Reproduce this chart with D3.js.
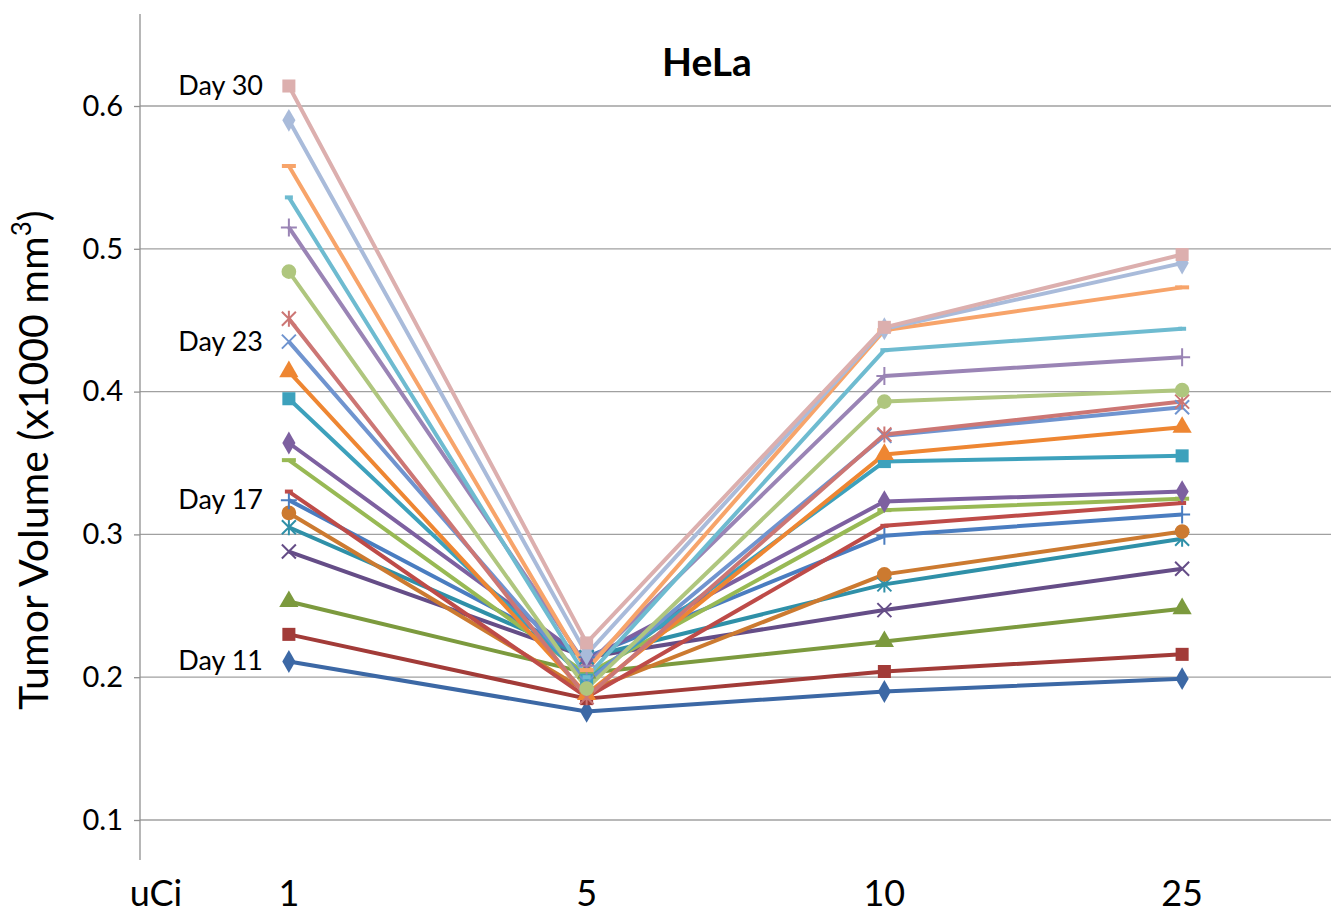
<!DOCTYPE html>
<html>
<head>
<meta charset="utf-8">
<script src="https://cdn.jsdelivr.net/npm/d3@7"></script>
<style>
  html, body { margin: 0; padding: 0; background: #fff; }
  svg { display: block; font-family: Lato, "Open Sans", sans-serif; }
</style>
</head>
<body>
<div id="chart"></div>
<script>
// doses on the x axis
const doses = ["1", "5", "10", "25"];
const yTicks = [0.1, 0.2, 0.3, 0.4, 0.5, 0.6];
// one series per day, Day 11 .. Day 30
const days = d3.range(11, 31);
const dayLabels = ["Day 11", "Day 17", "Day 23", "Day 30"];

// tumor volume (x1000 mm3) per series, at each dose
const volAt1  = [0.211, 0.230, 0.253, 0.288, 0.305, 0.315, 0.324, 0.330, 0.352, 0.364,
                 0.395, 0.414, 0.435, 0.451, 0.484, 0.515, 0.536, 0.558, 0.590, 0.614];
const volAt5  = [0.176, 0.185, 0.203, 0.214, 0.214, 0.190, 0.214, 0.186, 0.202, 0.212,
                 0.198, 0.188, 0.196, 0.186, 0.192, 0.208, 0.200, 0.205, 0.216, 0.224];
const volAt10 = [0.190, 0.204, 0.225, 0.247, 0.265, 0.272, 0.299, 0.306, 0.317, 0.323,
                 0.351, 0.356, 0.369, 0.370, 0.393, 0.411, 0.429, 0.443, 0.444, 0.445];
const volAt25 = [0.199, 0.216, 0.248, 0.276, 0.297, 0.302, 0.314, 0.322, 0.325, 0.330,
                 0.355, 0.375, 0.389, 0.393, 0.401, 0.424, 0.444, 0.473, 0.490, 0.496];

const colors = ["#3C68A5", "#A23B38", "#7C9A3E", "#654D87", "#2F90A8", "#CC7A30",
                "#4A7DC0", "#BE4B48", "#98B954", "#7D60A0", "#3DA1BC", "#EE8632",
                "#7094CF", "#CC7674", "#AFC67E", "#9A84B5", "#6EBBD0", "#F7A46A",
                "#A9BBDA", "#DCAFAE"];
const markerCycle = ["diamond", "square", "triangle", "x", "star", "circle", "plus", "dash", "longdash"];

const width = 1331, height = 916;
const plot = {left: 140, right: 1331, top: 14, bottom: 860};

const svg = d3.select("#chart").append("svg")
    .attr("width", width)
    .attr("height", height);

const x = d3.scaleBand().domain(doses).range([plot.left, plot.right]);
const xc = d => x(d) + x.bandwidth() / 2;
const y = d3.scaleLinear().domain([0.1, 0.6]).range([820, 106]);

// gridlines
svg.append("g")
    .selectAll("line")
    .data(yTicks)
    .join("line")
    .attr("x1", plot.left).attr("x2", plot.right)
    .attr("y1", d => y(d)).attr("y2", d => y(d))
    .attr("stroke", "#a0a0a0").attr("stroke-width", 1.3);

// y axis
const yAxis = svg.append("g")
    .attr("transform", `translate(${plot.left},0)`)
    .call(d3.axisLeft(y).tickValues(yTicks).tickFormat(d3.format(".1f")).tickSize(6).tickPadding(11));
yAxis.select(".domain").remove();
yAxis.append("line")
    .attr("x1", 0).attr("x2", 0)
    .attr("y1", plot.top).attr("y2", plot.bottom)
    .attr("stroke", "#909090").attr("stroke-width", 1.3);
yAxis.selectAll(".tick line").attr("stroke", "#909090").attr("stroke-width", 1.3);
yAxis.selectAll(".tick text")
    .attr("font-size", 29)
    .attr("fill", "#000")
    .attr("font-family", "Lato, 'Open Sans', sans-serif");

// y axis title
const yTitle = svg.append("text")
    .attr("transform", "translate(48,460) rotate(-90)")
    .attr("text-anchor", "middle")
    .attr("font-size", 41)
    .attr("fill", "#000");
yTitle.append("tspan").text("Tumor Volume (x1000 mm");
yTitle.append("tspan").attr("font-size", 26).attr("dy", -17).text("3");
yTitle.append("tspan").attr("dy", 17).text(")");

// x labels
svg.append("g")
    .selectAll("text")
    .data(doses)
    .join("text")
    .attr("x", d => xc(d))
    .attr("y", 906)
    .attr("text-anchor", "middle")
    .attr("font-size", 36)
    .text(d => d);
svg.append("text")
    .attr("x", 156).attr("y", 906)
    .attr("text-anchor", "middle")
    .attr("font-size", 36)
    .text("uCi");

// title
svg.append("text")
    .attr("x", 707).attr("y", 76)
    .attr("text-anchor", "middle")
    .attr("font-size", 39)
    .attr("font-weight", "bold")
    .text("HeLa");

// series data
const series = days.map((day, i) => ({
    day: day,
    color: colors[i],
    marker: markerCycle[i % markerCycle.length],
    values: [volAt1[i], volAt5[i], volAt10[i], volAt25[i]].map((v, j) => ({dose: doses[j], v: v}))
}));

const line = d3.line().x(d => xc(d.dose)).y(d => y(d.v));

const markerPath = {
    diamond: d3.symbol(d3.symbolDiamond, 150)(),
    square: d3.symbol(d3.symbolSquare, 170)(),
    triangle: d3.symbol(d3.symbolTriangle, 160)(),
    circle: d3.symbol(d3.symbolCircle, 170)(),
    x: "M-7,-7L7,7M-7,7L7,-7",
    star: "M-7,-7L7,7M-7,7L7,-7M0,-8L0,8",
    plus: "M-8,0L8,0M0,-9L0,9",
    dash: "M-4,0L4,0",
    longdash: "M-7,0L7,0"
};
const filled = new Set(["diamond", "square", "triangle", "circle"]);

const g = svg.append("g");
series.forEach(s => {
    g.append("path")
        .datum(s.values)
        .attr("d", line)
        .attr("fill", "none")
        .attr("stroke", s.color)
        .attr("stroke-width", 4)
        .attr("stroke-linejoin", "round");
});
series.forEach(s => {
    g.append("g")
        .selectAll("path")
        .data(s.values)
        .join("path")
        .attr("transform", d => `translate(${xc(d.dose)},${y(d.v)})`)
        .attr("d", markerPath[s.marker])
        .attr("fill", filled.has(s.marker) ? s.color : "none")
        .attr("stroke", s.color)
        .attr("stroke-width", filled.has(s.marker) ? 0 : (s.marker.indexOf("dash") >= 0 ? 4 : 2));
});

// day labels next to the first dose
svg.append("g")
    .selectAll("text")
    .data(dayLabels)
    .join("text")
    .attr("x", 263)
    .attr("y", d => y(volAt1[days.indexOf(+d.split(" ")[1])]) + 9)
    .attr("text-anchor", "end")
    .attr("font-size", 27)
    .text(d => d);
</script>
</body>
</html>
